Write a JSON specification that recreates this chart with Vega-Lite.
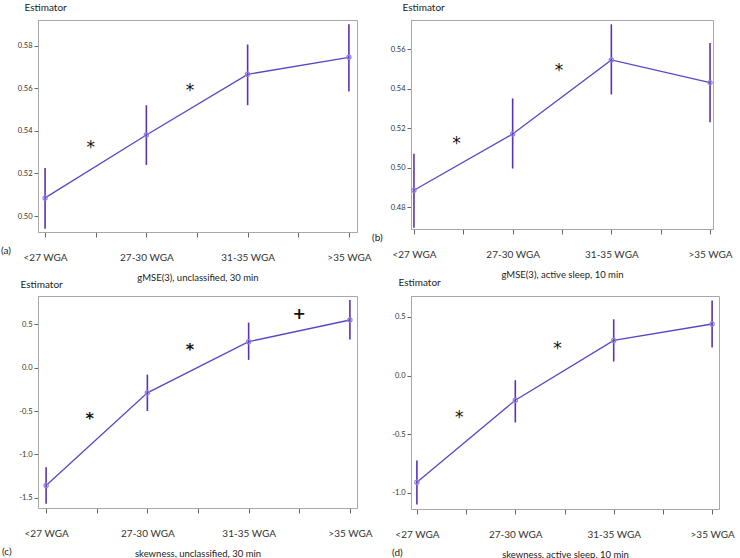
{
  "$schema": "https://vega.github.io/schema/vega-lite/v6.json",
  "padding": {"left": 0, "top": 1, "right": 0, "bottom": 0},
  "background": "white",
  "datasets": {
    "ests": [
      {"p": "a", "g": 1, "est": 0.5085, "lo": 0.494, "hi": 0.5225},
      {"p": "a", "g": 2, "est": 0.538, "lo": 0.524, "hi": 0.552},
      {"p": "a", "g": 3, "est": 0.5665, "lo": 0.552, "hi": 0.5805},
      {"p": "a", "g": 4, "est": 0.5745, "lo": 0.5585, "hi": 0.590},
      {"p": "b", "g": 1, "est": 0.4885, "lo": 0.4695, "hi": 0.507},
      {"p": "b", "g": 2, "est": 0.517, "lo": 0.4995, "hi": 0.535},
      {"p": "b", "g": 3, "est": 0.5545, "lo": 0.537, "hi": 0.5725},
      {"p": "b", "g": 4, "est": 0.543, "lo": 0.523, "hi": 0.563},
      {"p": "c", "g": 1, "est": -1.36, "lo": -1.57, "hi": -1.15},
      {"p": "c", "g": 2, "est": -0.29, "lo": -0.5, "hi": -0.08},
      {"p": "c", "g": 3, "est": 0.30, "lo": 0.09, "hi": 0.52},
      {"p": "c", "g": 4, "est": 0.55, "lo": 0.325, "hi": 0.78},
      {"p": "d", "g": 1, "est": -0.91, "lo": -1.1, "hi": -0.725},
      {"p": "d", "g": 2, "est": -0.21, "lo": -0.4, "hi": -0.04},
      {"p": "d", "g": 3, "est": 0.30, "lo": 0.12, "hi": 0.48},
      {"p": "d", "g": 4, "est": 0.44, "lo": 0.24, "hi": 0.64}
    ],
    "sig": [
      {"p": "a", "g": 1.45, "est": 0.534, "s": "*"},
      {"p": "a", "g": 2.43, "est": 0.5605, "s": "*"},
      {"p": "b", "g": 1.43, "est": 0.514, "s": "*"},
      {"p": "b", "g": 2.47, "est": 0.551, "s": "*"},
      {"p": "c", "g": 1.43, "est": -0.55, "s": "*"},
      {"p": "c", "g": 2.42, "est": 0.25, "s": "*"},
      {"p": "c", "g": 3.5, "est": 0.66, "s": "+"},
      {"p": "d", "g": 1.43, "est": -0.33, "s": "*"},
      {"p": "d", "g": 2.43, "est": 0.26, "s": "*"}
    ]
  },
  "columns": 2,
  "bounds": "flush",
  "spacing": {"column": 54, "row": 64},
  "concat": [
    {
      "width": 319, "height": 212,
      "title": {"text": "(a)", "orient": "bottom", "anchor": "start", "frame": "group", "dx": -37, "dy": -40},
      "encoding": {
        "x": {"field": "g", "type": "quantitative", "scale": {"domain": [0.93, 4.08], "nice": false, "zero": false},
          "axis": {"values": [1, 1.5, 2, 2.5, 3, 3.5, 4], "labelExpr": "datum.value==1?'<27 WGA':datum.value==2?'27-30 WGA':datum.value==3?'31-35 WGA':datum.value==4?'>35 WGA':''", "title": "gMSE(3), unclassified, 30 min", "titlePadding": 10}}
      },
      "layer": [
        {"data": {"name": "ests"}, "transform": [{"filter": "datum.p=='a'"}],
         "mark": {"type": "rule", "color": "#5a32b4", "strokeWidth": 1.6},
         "encoding": {"y": {"field": "lo", "type": "quantitative", "title": "Estimator", "scale": {"domain": [0.4925, 0.592], "nice": false, "zero": false},
           "axis": {"values": [0.5, 0.52, 0.54, 0.56, 0.58], "labelExpr": "format(datum.value,'.2f')", "titleX": -14, "titleY": -10}},
           "y2": {"field": "hi"}}},
        {"data": {"name": "ests"}, "transform": [{"filter": "datum.p=='a'"}],
         "mark": {"type": "line", "color": "#5b46c6", "strokeWidth": 1.3},
         "encoding": {"y": {"field": "est", "type": "quantitative", "title": "Estimator", "scale": {"domain": [0.4925, 0.592], "nice": false, "zero": false}}}},
        {"data": {"name": "ests"}, "transform": [{"filter": "datum.p=='a'"}],
         "mark": {"type": "point", "filled": false, "color": "#9483dc", "size": 18, "strokeWidth": 1.2, "opacity": 1},
         "encoding": {"y": {"field": "est", "type": "quantitative", "title": "Estimator", "scale": {"domain": [0.4925, 0.592], "nice": false, "zero": false}}}},
        {"data": {"name": "sig"}, "transform": [{"filter": "datum.p=='a'"}],
         "mark": {"type": "text", "fontSize": 17, "color": "#111", "baseline": "middle", "dy": 4, "font": "DejaVu Sans"},
         "encoding": {"y": {"field": "est", "type": "quantitative", "title": "Estimator", "scale": {"domain": [0.4925, 0.592], "nice": false, "zero": false}}, "text": {"field": "s"}}}
      ]
    },
    {
      "width": 302, "height": 209,
      "title": {"text": "(b)", "orient": "bottom", "anchor": "start", "frame": "group", "dx": -39, "dy": -50},
      "encoding": {
        "x": {"field": "g", "type": "quantitative", "scale": {"domain": [0.97, 4.03], "nice": false, "zero": false},
          "axis": {"values": [1, 1.5, 2, 2.5, 3, 3.5, 4], "labelExpr": "datum.value==1?'<27 WGA':datum.value==2?'27-30 WGA':datum.value==3?'31-35 WGA':datum.value==4?'>35 WGA':''", "title": "gMSE(3), active sleep, 10 min", "titlePadding": 10}}
      },
      "layer": [
        {"data": {"name": "ests"}, "transform": [{"filter": "datum.p=='b'"}],
         "mark": {"type": "rule", "color": "#5a32b4", "strokeWidth": 1.6},
         "encoding": {"y": {"field": "lo", "type": "quantitative", "title": "Estimator", "scale": {"domain": [0.4689, 0.5747], "nice": false, "zero": false},
           "axis": {"values": [0.48, 0.5, 0.52, 0.54, 0.56], "labelExpr": "format(datum.value,'.2f')", "titleX": -9, "titleY": -10}},
           "y2": {"field": "hi"}}},
        {"data": {"name": "ests"}, "transform": [{"filter": "datum.p=='b'"}],
         "mark": {"type": "line", "color": "#5b46c6", "strokeWidth": 1.3},
         "encoding": {"y": {"field": "est", "type": "quantitative", "title": "Estimator", "scale": {"domain": [0.4689, 0.5747], "nice": false, "zero": false}}}},
        {"data": {"name": "ests"}, "transform": [{"filter": "datum.p=='b'"}],
         "mark": {"type": "point", "filled": false, "color": "#9483dc", "size": 18, "strokeWidth": 1.2, "opacity": 1},
         "encoding": {"y": {"field": "est", "type": "quantitative", "title": "Estimator", "scale": {"domain": [0.4689, 0.5747], "nice": false, "zero": false}}}},
        {"data": {"name": "sig"}, "transform": [{"filter": "datum.p=='b'"}],
         "mark": {"type": "text", "fontSize": 17, "color": "#111", "baseline": "middle", "dy": 4, "font": "DejaVu Sans"},
         "encoding": {"y": {"field": "est", "type": "quantitative", "title": "Estimator", "scale": {"domain": [0.4689, 0.5747], "nice": false, "zero": false}}, "text": {"field": "s"}}}
      ]
    },
    {
      "width": 319, "height": 212,
      "title": {"text": "(c)", "orient": "bottom", "anchor": "start", "frame": "group", "dx": -36, "dy": -15},
      "encoding": {
        "x": {"field": "g", "type": "quantitative", "scale": {"domain": [0.92, 4.07], "nice": false, "zero": false},
          "axis": {"values": [1, 1.5, 2, 2.5, 3, 3.5, 4], "labelExpr": "datum.value==1?'<27 WGA':datum.value==2?'27-30 WGA':datum.value==3?'31-35 WGA':datum.value==4?'>35 WGA':''", "title": "skewness, unclassified, 30 min", "titlePadding": 10}}
      },
      "layer": [
        {"data": {"name": "ests"}, "transform": [{"filter": "datum.p=='c'"}],
         "mark": {"type": "rule", "color": "#5a32b4", "strokeWidth": 1.6},
         "encoding": {"y": {"field": "lo", "type": "quantitative", "title": "Estimator", "scale": {"domain": [-1.619, 0.827], "nice": false, "zero": false},
           "axis": {"values": [-1.5, -1, -0.5, 0, 0.5], "labelExpr": "replace(format(datum.value,'.1f'),'\u2212','-')", "titleX": -18, "titleY": -9}},
           "y2": {"field": "hi"}}},
        {"data": {"name": "ests"}, "transform": [{"filter": "datum.p=='c'"}],
         "mark": {"type": "line", "color": "#5b46c6", "strokeWidth": 1.3},
         "encoding": {"y": {"field": "est", "type": "quantitative", "title": "Estimator", "scale": {"domain": [-1.619, 0.827], "nice": false, "zero": false}}}},
        {"data": {"name": "ests"}, "transform": [{"filter": "datum.p=='c'"}],
         "mark": {"type": "point", "filled": false, "color": "#9483dc", "size": 18, "strokeWidth": 1.2, "opacity": 1},
         "encoding": {"y": {"field": "est", "type": "quantitative", "title": "Estimator", "scale": {"domain": [-1.619, 0.827], "nice": false, "zero": false}}}},
        {"data": {"name": "sig"}, "transform": [{"filter": "datum.p=='c'"}],
         "mark": {"type": "text", "fontSize": 16, "color": "#111", "baseline": "middle", "dy": 4, "fontWeight": "bold", "font": "DejaVu Sans"},
         "encoding": {"y": {"field": "est", "type": "quantitative", "title": "Estimator", "scale": {"domain": [-1.619, 0.827], "nice": false, "zero": false}}, "text": {"field": "s"}}}
      ]
    },
    {
      "width": 308, "height": 213,
      "title": {"text": "(d)", "orient": "bottom", "anchor": "start", "frame": "group", "dx": -19, "dy": -15},
      "encoding": {
        "x": {"field": "g", "type": "quantitative", "scale": {"domain": [0.94, 4.07], "nice": false, "zero": false},
          "axis": {"values": [1, 1.5, 2, 2.5, 3, 3.5, 4], "labelExpr": "datum.value==1?'<27 WGA':datum.value==2?'27-30 WGA':datum.value==3?'31-35 WGA':datum.value==4?'>35 WGA':''", "title": "skewness, active sleep, 10 min", "titlePadding": 10}}
      },
      "layer": [
        {"data": {"name": "ests"}, "transform": [{"filter": "datum.p=='d'"}],
         "mark": {"type": "rule", "color": "#5a32b4", "strokeWidth": 1.6},
         "encoding": {"y": {"field": "lo", "type": "quantitative", "title": "Estimator", "scale": {"domain": [-1.139, 0.679], "nice": false, "zero": false},
           "axis": {"values": [-1, -0.5, 0, 0.5], "labelExpr": "replace(format(datum.value,'.1f'),'\u2212','-')", "titleX": -13, "titleY": -11}},
           "y2": {"field": "hi"}}},
        {"data": {"name": "ests"}, "transform": [{"filter": "datum.p=='d'"}],
         "mark": {"type": "line", "color": "#5b46c6", "strokeWidth": 1.3},
         "encoding": {"y": {"field": "est", "type": "quantitative", "title": "Estimator", "scale": {"domain": [-1.139, 0.679], "nice": false, "zero": false}}}},
        {"data": {"name": "ests"}, "transform": [{"filter": "datum.p=='d'"}],
         "mark": {"type": "point", "filled": false, "color": "#9483dc", "size": 18, "strokeWidth": 1.2, "opacity": 1},
         "encoding": {"y": {"field": "est", "type": "quantitative", "title": "Estimator", "scale": {"domain": [-1.139, 0.679], "nice": false, "zero": false}}}},
        {"data": {"name": "sig"}, "transform": [{"filter": "datum.p=='d'"}],
         "mark": {"type": "text", "fontSize": 17, "color": "#111", "baseline": "middle", "dy": 4, "font": "DejaVu Sans"},
         "encoding": {"y": {"field": "est", "type": "quantitative", "title": "Estimator", "scale": {"domain": [-1.139, 0.679], "nice": false, "zero": false}}, "text": {"field": "s"}}}
      ]
    }
  ],
  "config": {
    "font": "Lato",
    "view": {"stroke": "#a8a8a8", "strokeWidth": 1},
    "title": {"fontSize": 10, "fontWeight": "normal", "color": "#222", "font": "Lato"},
    "axis": {"grid": false, "labelFont": "Lato", "titleFont": "Lato", "labelColor": "#333", "titleColor": "#222", "domainColor": "#a8a8a8", "tickColor": "#666", "titleFontWeight": "normal", "labelOverlap": false, "labelBound": false, "labelFlush": false},
    "axisX": {"labelFontSize": 10, "titleFontSize": 9.5, "labelPadding": 15, "tickSize": 5, "titlePadding": 7},
    "axisY": {"labelFontSize": 7.5, "titleFontSize": 10, "tickSize": 4, "labelPadding": 2, "titleAngle": 0, "titleAlign": "left", "titleBaseline": "alphabetic"}
  }
}
